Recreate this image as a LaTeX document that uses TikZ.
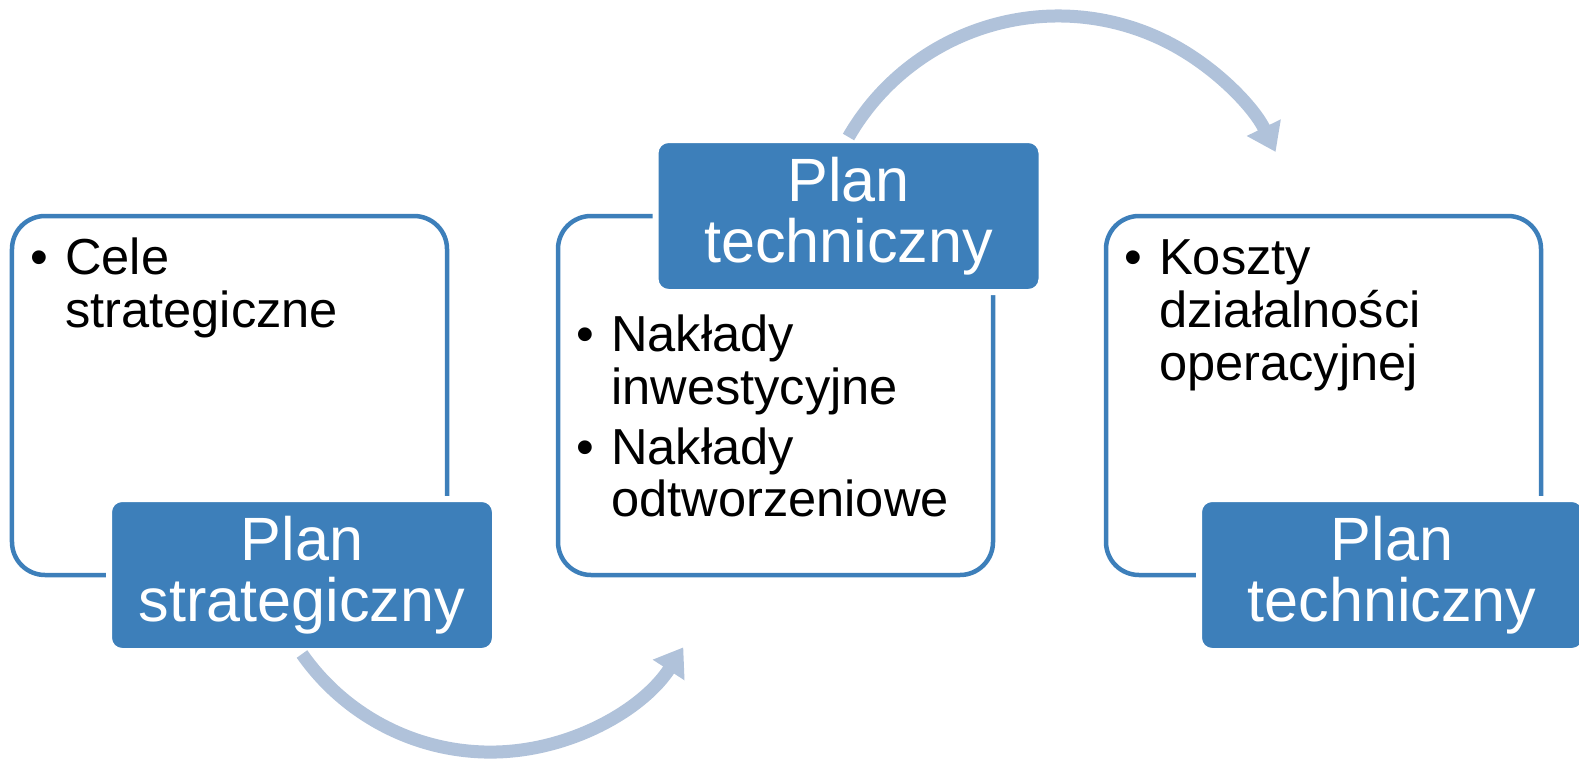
\documentclass[tikz,border=0pt]{standalone}
\usepackage{fontspec}
\setmainfont{Liberation Sans}
\usepackage{tikz}
\usetikzlibrary{arrows.meta}
\usetikzlibrary{positioning}
\usepackage{color}
\definecolor{belizehole}{RGB}{61, 127, 186}
\definecolor{lightsteel}{RGB}{176, 194, 218}

\begin{document}
\begin{tikzpicture}[
        panel/.style   = {draw=belizehole, line width=0.045cm, rounded corners=0.33cm, outer sep=0pt,
                          minimum width=4.35cm, minimum height=3.59cm, anchor=north west},
        tag/.style     = {fill=belizehole, draw=white, line width=0.06cm, rounded corners=0.13cm,
                          minimum width=3.86cm, minimum height=1.52cm, text=white, align=center,
                          font=\fontsize{17.4}{17.4}\selectfont},
        bullets/.style = {inner sep=0pt, font=\fontsize{14.4}{15}\selectfont},
        flow/.style    = {draw=lightsteel, line width=0.13cm, -{Triangle[length=0.27cm, width=0.36cm]}}
    ]
            \useasboundingbox (0.00, 0.00) rectangle (15.79, 7.67);
            \node[panel] (box1) at ( 0.12, 5.51) {};
            \node[panel] (box2) at ( 5.58, 5.51) {};
            \node[panel] (box3) at (11.06, 5.51) {};
            \node[bullets, below right=0.21cm and 0.175cm of box1.north west] (txt1)
                 {\begin{tabular}{@{}p{0.35cm}@{}l@{}}\textbullet & Cele\\ & strategiczne\end{tabular}};
            \node[bullets, below right=0.98cm and 0.175cm of box2.north west] (txt2)
                 {\begin{tabular}{@{}p{0.35cm}@{}l@{}}\textbullet & Nakłady\\ & inwestycyjne\\[2pt]
                                                      \textbullet & Nakłady\\ & odtworzeniowe\end{tabular}};
            \node[bullets, below right=0.21cm and 0.175cm of box3.north west] (txt3)
                 {\begin{tabular}{@{}p{0.35cm}@{}l@{}}\textbullet & Koszty\\ & działalności\\ & operacyjnej\end{tabular}};
            \node[tag, xshift=0.725cm] (lab1) at (box1.south) {Plan\\strategiczny};
            \node[tag, xshift=0.730cm] (lab2) at (box2.north) {Plan\\techniczny};
            \node[tag, xshift=0.685cm] (lab3) at (box3.south) {Plan\\techniczny};
            \draw[flow] (lab1.south) arc[start angle=-145, end angle=-33, radius=2.30];
            \draw[flow] (lab2.north) arc[start angle= 150, end angle= 26, radius=2.42];
        \end{tikzpicture}
\end{document}
